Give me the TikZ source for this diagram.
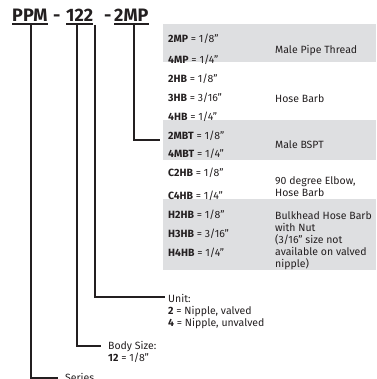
\documentclass[tikz,border=0pt]{standalone}
\usepackage{fontspec}
\setmainfont{Fira Sans}
\definecolor{boxgray}{RGB}{222,223,225}
\definecolor{ink}{RGB}{35,31,32}
\begin{document}
\begin{tikzpicture}[x=1pt,y=-1pt,
  band/.style={fill=boxgray,draw=none},
  code/.style={anchor=west,inner sep=0pt,text=ink,font=\fontsize{10.5}{12}\selectfont},
  desc/.style={anchor=north west,inner sep=0pt,text=ink,align=left,font=\fontsize{10.5}{12}\selectfont},
  ttl/.style={anchor=base west,inner sep=0pt,text=ink,font=\fontsize{18}{20}\selectfont\bfseries},
  lead/.style={draw=ink,line width=1.1pt},
  uline/.style={draw=ink,line width=1.3pt}]
\useasboundingbox (0,0) rectangle (376,379);
% bands
\fill[band] (163,24) rectangle (376,62);
\fill[band] (163,120) rectangle (376,160);
\fill[band] (163,199) rectangle (376,270);
% title
\node[ttl] (ppm) at (12,22) {PPM};
\node[ttl] (da) at (53,22) {-};
\node[ttl] (body) at (66,22) {122};
\node[ttl] (db) at (104,22) {-};
\node[ttl] (fit) at (114,22) {2MP};
\draw[uline] ([yshift=-2pt]ppm.base west) -- ([yshift=-2pt]ppm.base east);
\draw[uline] ([yshift=-2pt]body.base west) -- ([yshift=-2pt]body.base east);
\draw[uline] ([yshift=-2pt]fit.base west) -- ([yshift=-2pt]fit.base east);
\coordinate (tP) at (31,25);
\coordinate (tB) at (77,25);
\coordinate (tU) at (95,25);
\coordinate (tF) at (134,25);
% codes
\node[code] (c1) at (168,39) {\textbf{2MP} = 1/8"};
\node[code] (c2) at (168,60) {\textbf{4MP} = 1/4"};
\node[code] (c3) at (168,79) {\textbf{2HB} = 1/8"};
\node[code] (c4) at (168,98) {\textbf{3HB} = 3/16"};
\node[code] (c5) at (168,117) {\textbf{4HB} = 1/4"};
\node[code] (c6) at (168,136) {\textbf{2MBT} = 1/8"};
\node[code] (c7) at (168,154) {\textbf{4MBT} = 1/4"};
\node[code] (c8) at (168,173) {\textbf{C2HB} = 1/8"};
\node[code] (c9) at (168,196) {\textbf{C4HB} = 1/4"};
\node[code] (c10) at (168,215) {\textbf{H2HB} = 1/8"};
\node[code] (c11) at (168,234) {\textbf{H3HB} = 3/16"};
\node[code] (c12) at (168,253) {\textbf{H4HB} = 1/4"};
% descriptions
\node[code] (d1) at (275,51) {Male Pipe Thread};
\node[code] (d2) at (275,99) {Hose Barb};
\node[code] (d3) at (275,145) {Male BSPT};
\node[desc] (d4) at (275,176) {90 degree Elbow,\\Hose Barb};
\node[desc] (d5) at (275,211) {Bulkhead Hose Barb\\with Nut\\(3/16" size not\\available on valved\\nipple)};
% bottom labels
\node[desc] (unit) at (168,294) {Unit:\\\textbf{2} = Nipple, valved\\\textbf{4} = Nipple, unvalved};
\node[desc] (bsize) at (108,341) {Body Size:\\\textbf{12} = 1/8"};
\node[desc] (series) at (65,373) {Series};
\coordinate (eF) at (160,140);
\coordinate (eU) at (165,297);
\coordinate (eB) at (101,346);
\coordinate (eS) at (58,378);
% leaders
\draw[lead] (tF) |- (eF);
\draw[lead] (tU) |- (eU);
\draw[lead] (tB) |- (eB);
\draw[lead] (tP) |- (eS);
\end{tikzpicture}
\end{document}
